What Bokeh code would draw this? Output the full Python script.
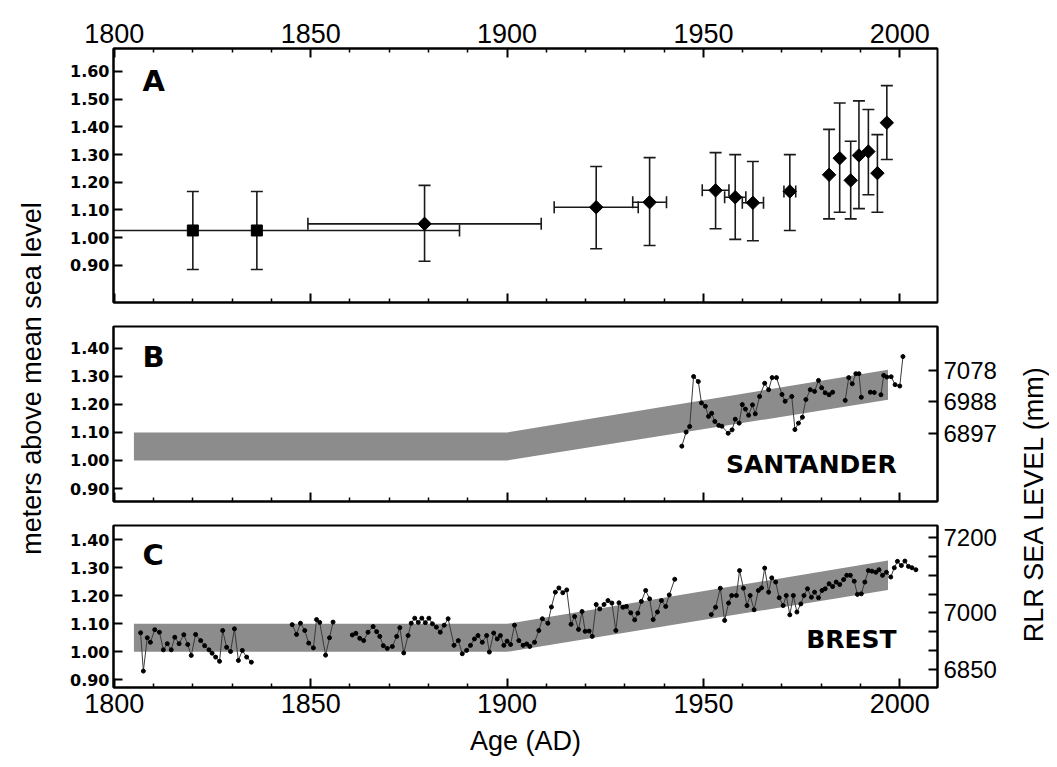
import math
from bokeh.plotting import figure
from bokeh.models import (Range1d, LinearAxis, FixedTicker, NumeralTickFormatter,
                          Whisker, TeeHead, ColumnDataSource, Label)
from bokeh.layouts import row, column
from bokeh.embed import file_html
from bokeh.resources import INLINE

NaN = float("nan")

# ---------------- data ----------------
# Panel A: dated sea-level index points
a_year = [1820.0, 1836.3, 1879.0, 1922.7, 1936.3, 1953.1, 1958.1, 1962.6,
          1972.0, 1982.0, 1984.7, 1987.5, 1989.6, 1992.0, 1994.3, 1996.7]
a_value = [1.026, 1.026, 1.050, 1.110, 1.128, 1.171, 1.146, 1.126,
           1.167, 1.227, 1.287, 1.207, 1.297, 1.311, 1.233, 1.415]
a_upper = [1.167, 1.167, 1.189, 1.257, 1.289, 1.307, 1.300, 1.275,
           1.300, 1.391, 1.486, 1.348, 1.494, 1.463, 1.372, 1.549]
a_lower = [0.885, 0.885, 0.915, 0.960, 0.972, 1.032, 0.994, 0.989,
           1.026, 1.068, 1.092, 1.068, 1.105, 1.155, 1.092, 1.282]
a_xerr = [0.0, 51.6, 29.7, 10.7, 4.3, 3.4, 2.7, 2.7,
          1.5, 0.0, 0.0, 0.0, 0.0, 0.0, 0.0, 0.0]
a_symbol = ["square", "square"] + ["diamond"] * 14

# Grey envelope (panels B and C)
band_x = [1805, 1900, 1997]
band_b_lower = [1.00, 1.00, 1.216]
band_b_upper = [1.10, 1.10, 1.323]
band_c_lower = [1.00, 1.00, 1.221]
band_c_upper = [1.10, 1.10, 1.326]

# Panel B: Santander tide gauge (m)
santander_year = [1944.5, 1945.6, 1946.5, 1947.5, 1948.7, 1949.5, 1950.5, 1951.3,
                  1952.1, 1952.9, 1953.9, 1954.7, 1956.3, 1957.3, 1958.1, 1959.1,
                  1959.9, 1960.7, 1961.5, 1962.5, 1963.2, 1964.3, 1965.6, 1966.6,
                  1967.5, 1968.6, 1970.0, 1970.8, 1972.5, 1973.3, 1974.2, 1975.2,
                  1976.1, 1977.2, 1978.3, 1979.3, 1980.1, 1981.0, 1982.0, 1982.9,
                  NaN,
                  1986.1, 1987.0, 1987.9, 1988.8, 1989.6, 1990.2,
                  NaN,
                  1992.5, 1993.5,
                  NaN,
                  1995.2, 1995.9, 1996.7, 1997.8, 1998.8, 2000.0, 2000.8]
santander_value = [1.051, 1.101, 1.121, 1.299, 1.281, 1.205, 1.193, 1.157,
                   1.168, 1.139, 1.125, 1.122, 1.097, 1.109, 1.147, 1.133,
                   1.199, 1.183, 1.161, 1.198, 1.166, 1.228, 1.275, 1.252,
                   1.295, 1.295, 1.235, 1.211, 1.228, 1.110, 1.133, 1.154,
                   1.217, 1.252, 1.246, 1.285, 1.259, 1.241, 1.234, 1.243,
                   NaN,
                   1.214, 1.295, 1.273, 1.309, 1.309, 1.225,
                   NaN,
                   1.243, 1.242,
                   NaN,
                   1.234, 1.303, 1.297, 1.298, 1.270, 1.265, 1.370]

# Panel C: Brest tide gauge (m)
brest_year = [1806.7, 1807.4, 1808.4, 1809.2, 1810.3, 1811.5, 1812.5, 1813.5,
              1814.5, 1815.4, 1816.5, 1817.7, 1818.7, 1819.6, 1820.7, 1822.0,
              1823.0, 1824.1, 1824.9, 1825.8, 1826.8, 1827.6, 1828.6, 1829.6,
              1830.6, 1831.6, 1832.6, 1833.7, 1834.9,
              NaN,
              1845.3, 1846.4, 1847.4, 1848.5, 1849.5, 1850.7, 1851.5, 1852.3,
              1853.8, 1854.8, 1855.7,
              NaN,
              1860.6, 1861.5, 1862.5, 1863.5, 1864.6, 1865.9, 1866.8, 1867.6,
              1868.5, 1869.5, 1870.8, 1871.9, 1872.7, 1873.7, 1874.8, 1875.6,
              1876.5, 1877.4, 1878.3, 1879.2, 1880.1, 1881.0, 1882.0, 1883.0,
              1884.0, 1885.0, 1886.5, 1887.6, 1888.6, 1889.7, 1890.7, 1891.7,
              1892.6, 1893.7, 1894.8, 1895.5, 1896.6, 1897.5, 1898.3, 1899.2,
              1900.0, 1900.9, 1901.9, 1903.0, 1904.1, 1905.0, 1905.8, 1907.0,
              1908.1, 1909.0, 1910.4, 1911.3, 1912.3, 1913.2, 1914.2, 1915.2,
              1916.3, 1917.2, 1918.2, 1919.1, 1919.9, 1920.9, 1921.7, 1922.7,
              1923.6, 1924.7, 1925.7, 1926.7, 1927.7, 1928.5, 1929.5, 1930.4,
              1931.5, 1932.5, 1933.3, 1934.2, 1935.3, 1936.3, 1937.2, 1938.3,
              1939.3, 1940.4, 1941.3, 1942.7,
              NaN,
              1952.0, 1953.1, 1954.3, 1955.4, 1956.4, 1957.2, 1958.4, 1959.2,
              1960.2, 1961.1, 1961.9, 1962.9, 1964.0, 1964.8, 1965.6, 1966.6,
              1967.4, 1968.4, 1969.3, 1970.3, 1971.1, 1972.0, 1972.9, 1973.8,
              1974.8, 1975.6, 1976.5, 1977.5, 1978.3, 1979.3, 1980.2, 1981.0,
              1982.0, 1982.9, 1983.8, 1984.7, 1985.7, 1986.5, 1987.4, 1988.4,
              1989.2, 1990.2, 1991.1, 1992.0, 1992.9, 1993.9, 1994.7, 1995.6,
              1996.6, 1997.7, 1998.6, 1999.4, 2000.4, 2001.3, 2002.2, 2003.1,
              2004.1]
brest_value = [1.068, 0.931, 1.050, 1.034, 1.079, 1.070, 1.007, 1.029,
               1.007, 1.052, 1.029, 1.061, 1.026, 0.987, 1.062, 1.040,
               1.022, 1.007, 0.995, 0.981, 0.966, 1.076, 1.016, 1.001,
               1.082, 0.969, 1.005, 0.981, 0.963,
               NaN,
               1.097, 1.062, 1.102, 1.076, 1.031, 1.014, 1.115, 1.105,
               0.988, 1.050, 1.106,
               NaN,
               1.060, 1.066, 1.048, 1.040, 1.070, 1.090, 1.072, 1.055,
               1.022, 1.012, 1.019, 1.055, 1.086, 0.996, 1.058, 1.102,
               1.120, 1.105, 1.120, 1.104, 1.120, 1.100, 1.088, 1.070,
               1.095, 1.118, 1.023, 1.040, 0.993, 1.005, 1.023, 1.046,
               1.058, 1.034, 1.058, 0.999, 1.067, 1.046, 1.058, 1.023,
               1.038, 1.026, 1.095, 1.040, 1.023, 1.028, 1.019, 1.034,
               1.076, 1.118, 1.102, 1.160, 1.213, 1.228, 1.211, 1.221,
               1.098, 1.126, 1.080, 1.144, 1.073, 1.074, 1.055, 1.169,
               1.153, 1.169, 1.183, 1.174, 1.076, 1.175, 1.159, 1.162,
               1.139, 1.114, 1.138, 1.180, 1.219, 1.189, 1.115, 1.142,
               1.183, 1.162, 1.203, 1.259,
               NaN,
               1.133, 1.159, 1.227, 1.112, 1.174, 1.201, 1.201, 1.290,
               1.227, 1.165, 1.201, 1.150, 1.219, 1.228, 1.299, 1.213,
               1.264, 1.249, 1.193, 1.165, 1.201, 1.132, 1.201, 1.142,
               1.171, 1.201, 1.225, 1.195, 1.213, 1.193, 1.219, 1.225,
               1.243, 1.233, 1.249, 1.240, 1.258, 1.273, 1.273, 1.252,
               1.205, 1.207, 1.249, 1.290, 1.288, 1.284, 1.293, 1.273,
               1.284, 1.267, 1.300, 1.323, 1.308, 1.324, 1.305, 1.300,
               1.293]

# Ticks
x_major = [1800, 1850, 1900, 1950, 2000]
x_minor = [1810, 1820, 1830, 1840, 1860, 1870, 1880, 1890, 1910, 1920,
           1930, 1940, 1960, 1970, 1980, 1990]
a_yticks = [0.90, 1.00, 1.10, 1.20, 1.30, 1.40, 1.50, 1.60]
bc_yticks = [0.90, 1.00, 1.10, 1.20, 1.30, 1.40]
santander_mm_ticks = [6897, 6988, 7078]
brest_mm_ticks = [6850, 7000, 7200]
brest_mm_minor = [6900, 6950, 7050, 7100, 7150]

# ---------------- styling helpers ----------------
FONT = "Liberation Sans"
FRAME_W = 824
LEFT_B = 57
RIGHT_B = 72
GREY = "#8c8c8c"


def base_fig(fh, ytop, ybot, y_start, y_end, xloc):
    p = figure(frame_width=FRAME_W, frame_height=fh,
               min_border_left=LEFT_B, min_border_right=RIGHT_B,
               min_border_top=ytop, min_border_bottom=ybot,
               x_range=Range1d(1799.8, 2009.6), y_range=Range1d(y_start, y_end),
               x_axis_location=xloc, y_axis_location="left",
               toolbar_location=None, output_backend="svg")
    p.grid.grid_line_color = None
    p.outline_line_color = "black"
    p.outline_line_width = 2
    p.background_fill_color = "white"
    p.border_fill_color = "white"
    return p


def style_axis(ax, size, font=FONT, style="normal"):
    ax.axis_line_color = "black"
    ax.axis_line_width = 2
    ax.major_tick_in = 9
    ax.major_tick_out = 0
    ax.minor_tick_in = 4
    ax.minor_tick_out = 0
    ax.major_tick_line_width = 2
    ax.minor_tick_line_width = 1.5
    ax.major_tick_line_color = "black"
    ax.minor_tick_line_color = "black"
    ax.major_label_text_font = font
    ax.major_label_text_font_size = size
    ax.major_label_text_font_style = style
    ax.major_label_text_color = "black"


def x_ticker():
    return FixedTicker(ticks=x_major, minor_ticks=x_minor)


def y_left(p, ticks):
    ax = p.yaxis[0]
    ax.ticker = FixedTicker(ticks=ticks)
    ax.formatter = NumeralTickFormatter(format="0.00")
    style_axis(ax, "16px", font="DejaVu Sans", style="bold")
    ax.major_label_standoff = 4


def mute_labels(ax):
    # tick marks only: labels are not drawn
    ax.major_label_text_font_size = "1px"
    ax.major_label_text_color = None
    ax.major_label_standoff = 0


def panel_label(p, x, y, txt, size, align="left"):
    p.add_layout(Label(x=x, y=y, text=txt, text_font="DejaVu Sans", text_font_size=size,
                       text_font_style="bold", text_align=align,
                       text_baseline="middle", text_color="black"))


# ---------------- Panel A ----------------
pa = base_fig(254, 48, 12, 0.766, 1.683, "above")
axa = pa.xaxis[0]
axa.ticker = x_ticker()
style_axis(axa, "27px")
axa.major_label_standoff = 6
y_left(pa, a_yticks)
axa_b = LinearAxis(ticker=x_ticker())
style_axis(axa_b, "1px")
mute_labels(axa_b)
pa.add_layout(axa_b, "below")

xsrc = ColumnDataSource(dict(
    y=[v for v, e in zip(a_value, a_xerr) if e > 0],
    lo=[x - e for x, e in zip(a_year, a_xerr) if e > 0],
    hi=[x + e for x, e in zip(a_year, a_xerr) if e > 0]))
pa.add_layout(Whisker(source=xsrc, base="y", lower="lo", upper="hi", dimension="width",
                      line_color="#1a1a1a", line_width=1.6,
                      lower_head=TeeHead(size=12, line_color="#1a1a1a", line_width=1.6),
                      upper_head=TeeHead(size=12, line_color="#1a1a1a", line_width=1.6)))
ysrc = ColumnDataSource(dict(x=a_year, lo=a_lower, hi=a_upper))
pa.add_layout(Whisker(source=ysrc, base="x", lower="lo", upper="hi", dimension="height",
                      line_color="#1a1a1a", line_width=1.6,
                      lower_head=TeeHead(size=12, line_color="#1a1a1a", line_width=1.6),
                      upper_head=TeeHead(size=12, line_color="#1a1a1a", line_width=1.6)))
sq = [i for i, s in enumerate(a_symbol) if s == "square"]
dm = [i for i, s in enumerate(a_symbol) if s == "diamond"]
pa.scatter([a_year[i] for i in sq], [a_value[i] for i in sq], marker="square",
           size=11, color="black")
pa.scatter([a_year[i] for i in dm], [a_value[i] for i in dm], marker="square",
           angle=math.pi / 4, size=9.5, color="black")
panel_label(pa, 1807.2, 1.564, "A", "29px")

# ---------------- Panel B ----------------
pb = base_fig(175, 12, 12, 0.854, 1.477, "below")
axb = pb.xaxis[0]
axb.ticker = x_ticker()
style_axis(axb, "1px")
mute_labels(axb)
y_left(pb, bc_yticks)
pb.extra_y_ranges = {"mm": Range1d(6700, 7205)}
rb = LinearAxis(y_range_name="mm", ticker=FixedTicker(ticks=santander_mm_ticks))
style_axis(rb, "24px")
rb.major_label_standoff = 6
pb.add_layout(rb, "right")
pb.varea(x=band_x, y1=band_b_lower, y2=band_b_upper, fill_color=GREY)
pb.line(santander_year, santander_value, line_color="#3a3a3a", line_width=1)
pb.scatter(santander_year, santander_value, size=4, color="black")
panel_label(pb, 1807.2, 1.367, "B", "29px")
panel_label(pb, 1999.2, 0.986, "SANTANDER", "25px", align="right")

# ---------------- Panel C ----------------
pc = base_fig(162, 12, 79, 0.8725, 1.451, "below")
axc = pc.xaxis[0]
axc.ticker = x_ticker()
style_axis(axc, "27px")
axc.major_label_standoff = 6
axc.axis_label = "Age (AD)"
axc.axis_label_text_font = FONT
axc.axis_label_text_font_size = "27px"
axc.axis_label_text_font_style = "normal"
axc.axis_label_text_color = "black"
axc.axis_label_standoff = 10
y_left(pc, bc_yticks)
pc.extra_y_ranges = {"mm": Range1d(6803, 7231)}
rc = LinearAxis(y_range_name="mm",
                ticker=FixedTicker(ticks=brest_mm_ticks, minor_ticks=brest_mm_minor))
style_axis(rc, "24px")
rc.minor_tick_in = 9
rc.minor_tick_line_width = 2
rc.major_label_standoff = 6
pc.add_layout(rc, "right")
pc.varea(x=band_x, y1=band_c_lower, y2=band_c_upper, fill_color=GREY)
pc.line(brest_year, brest_value, line_color="#3a3a3a", line_width=1)
pc.scatter(brest_year, brest_value, size=4, color="black")
panel_label(pc, 1807.2, 1.344, "C", "29px")
panel_label(pc, 1999.2, 1.044, "BREST", "25px", align="right")

# ---------------- side titles ----------------
TOTAL_H = 48 + 254 + 12 + 12 + 175 + 12 + 12 + 162 + 79


def title_fig(w, cx, cy_from_top, txt):
    f = figure(width=w, height=TOTAL_H, x_range=Range1d(0, w), y_range=Range1d(0, TOTAL_H),
               x_axis_location=None, y_axis_location=None, min_border=0,
               toolbar_location=None, output_backend="svg")
    f.grid.grid_line_color = None
    f.outline_line_color = None
    f.add_layout(Label(x=cx, y=TOTAL_H - cy_from_top, text=txt, angle=math.pi / 2,
                       text_font=FONT, text_font_size="27px", text_align="center",
                       text_baseline="middle", text_color="black"))
    return f


left_t = title_fig(56, 31, 378, "meters above mean sea level")
right_t = title_fig(40, 24, 503, "RLR SEA LEVEL (mm)")

layout = row(left_t, column(pa, pb, pc, spacing=0), right_t, spacing=0)

with open("out.html", "w") as fh:
    fh.write(file_html(layout, INLINE))
